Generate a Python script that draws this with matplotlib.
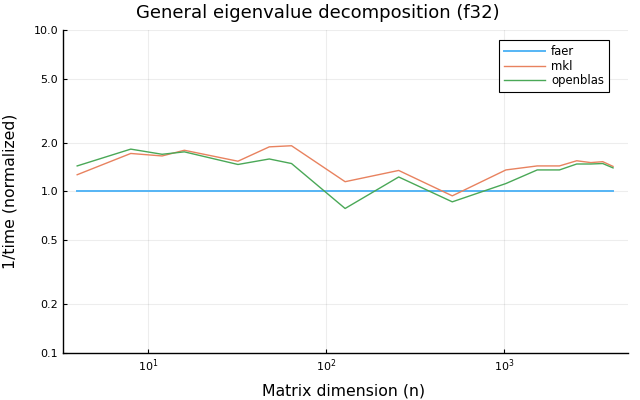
import matplotlib
matplotlib.use("Agg")
import matplotlib.pyplot as plt
from matplotlib.ticker import FixedLocator, FixedFormatter, NullLocator, LogFormatterMathtext

n = [4, 8, 12, 16, 32, 48, 64, 128, 256, 512, 1024, 1536, 2048, 2560, 3072, 3584, 4096]
faer = [1.0] * len(n)
mkl = [1.27, 1.72, 1.66, 1.80, 1.54, 1.89, 1.92, 1.15, 1.35, 0.94, 1.36, 1.44, 1.44, 1.55, 1.51, 1.53, 1.43]
openblas = [1.44, 1.83, 1.70, 1.76, 1.47, 1.59, 1.49, 0.785, 1.23, 0.863, 1.12, 1.36, 1.36, 1.48, 1.48, 1.49, 1.40]
yticks = [0.1, 0.2, 0.5, 1.0, 2.0, 5.0, 10.0]
ytick_labels = ["0.1", "0.2", "0.5", "1.0", "2.0", "5.0", "10.0"]

plt.rcParams['font.family'] = ['DejaVu Sans']
fig = plt.figure(figsize=(6.4, 4.0), dpi=100)
ax = fig.add_axes([63/640, 1 - 353/400, (628-63)/640, (353-30)/400])

ax.plot(n, faer, color="#55b5f5", lw=1.4, label="faer")
ax.plot(n, mkl, color="#e8825f", lw=1.0, label="mkl")
ax.plot(n, openblas, color="#4aa857", lw=1.0, label="openblas")

ax.set_xscale("log")
ax.set_yscale("log")
ax.set_ylim(0.1, 10.0)
ax.set_xlim(3.33, 4970)
ax.yaxis.set_major_locator(FixedLocator(yticks))
ax.yaxis.set_major_formatter(FixedFormatter(ytick_labels))
ax.yaxis.set_minor_locator(NullLocator())
ax.xaxis.set_major_locator(FixedLocator([10, 100, 1000]))
ax.xaxis.set_major_formatter(LogFormatterMathtext())
ax.xaxis.set_minor_locator(NullLocator())

ax.grid(True, color="black", alpha=0.07, lw=0.8)
for s in ["top", "right"]:
    ax.spines[s].set_visible(False)
for s in ["left", "bottom"]:
    ax.spines[s].set_linewidth(1.0)
ax.tick_params(direction="in", length=3, labelsize=8, colors="black")

fig.text(318/640, 1 - 13/400, "General eigenvalue decomposition (f32)", fontsize=13,
         ha="center", va="center")
ax.set_xlabel("Matrix dimension (n)", fontsize=11.3)
ax.set_ylabel("1/time (normalized)", fontsize=11.3)
ax.xaxis.set_label_coords((344 - 63) / 565, -(391 - 353) / 323)
ax.yaxis.set_label_coords(-(63 - 10) / 565, 0.5)
ax.xaxis.label.set_va("center")
ax.yaxis.label.set_va("center")

leg = ax.legend(loc="upper left", bbox_to_anchor=((499 - 63) / 565, 1 - (40 - 30) / 323),
                fontsize=8.4, frameon=True, borderaxespad=0,
                fancybox=False, edgecolor="black", framealpha=1.0, handlelength=3.5,
                borderpad=0.42, labelspacing=0.15, handletextpad=0.55)
leg.get_frame().set_linewidth(0.8)

fig.savefig("out.png", dpi=100)
